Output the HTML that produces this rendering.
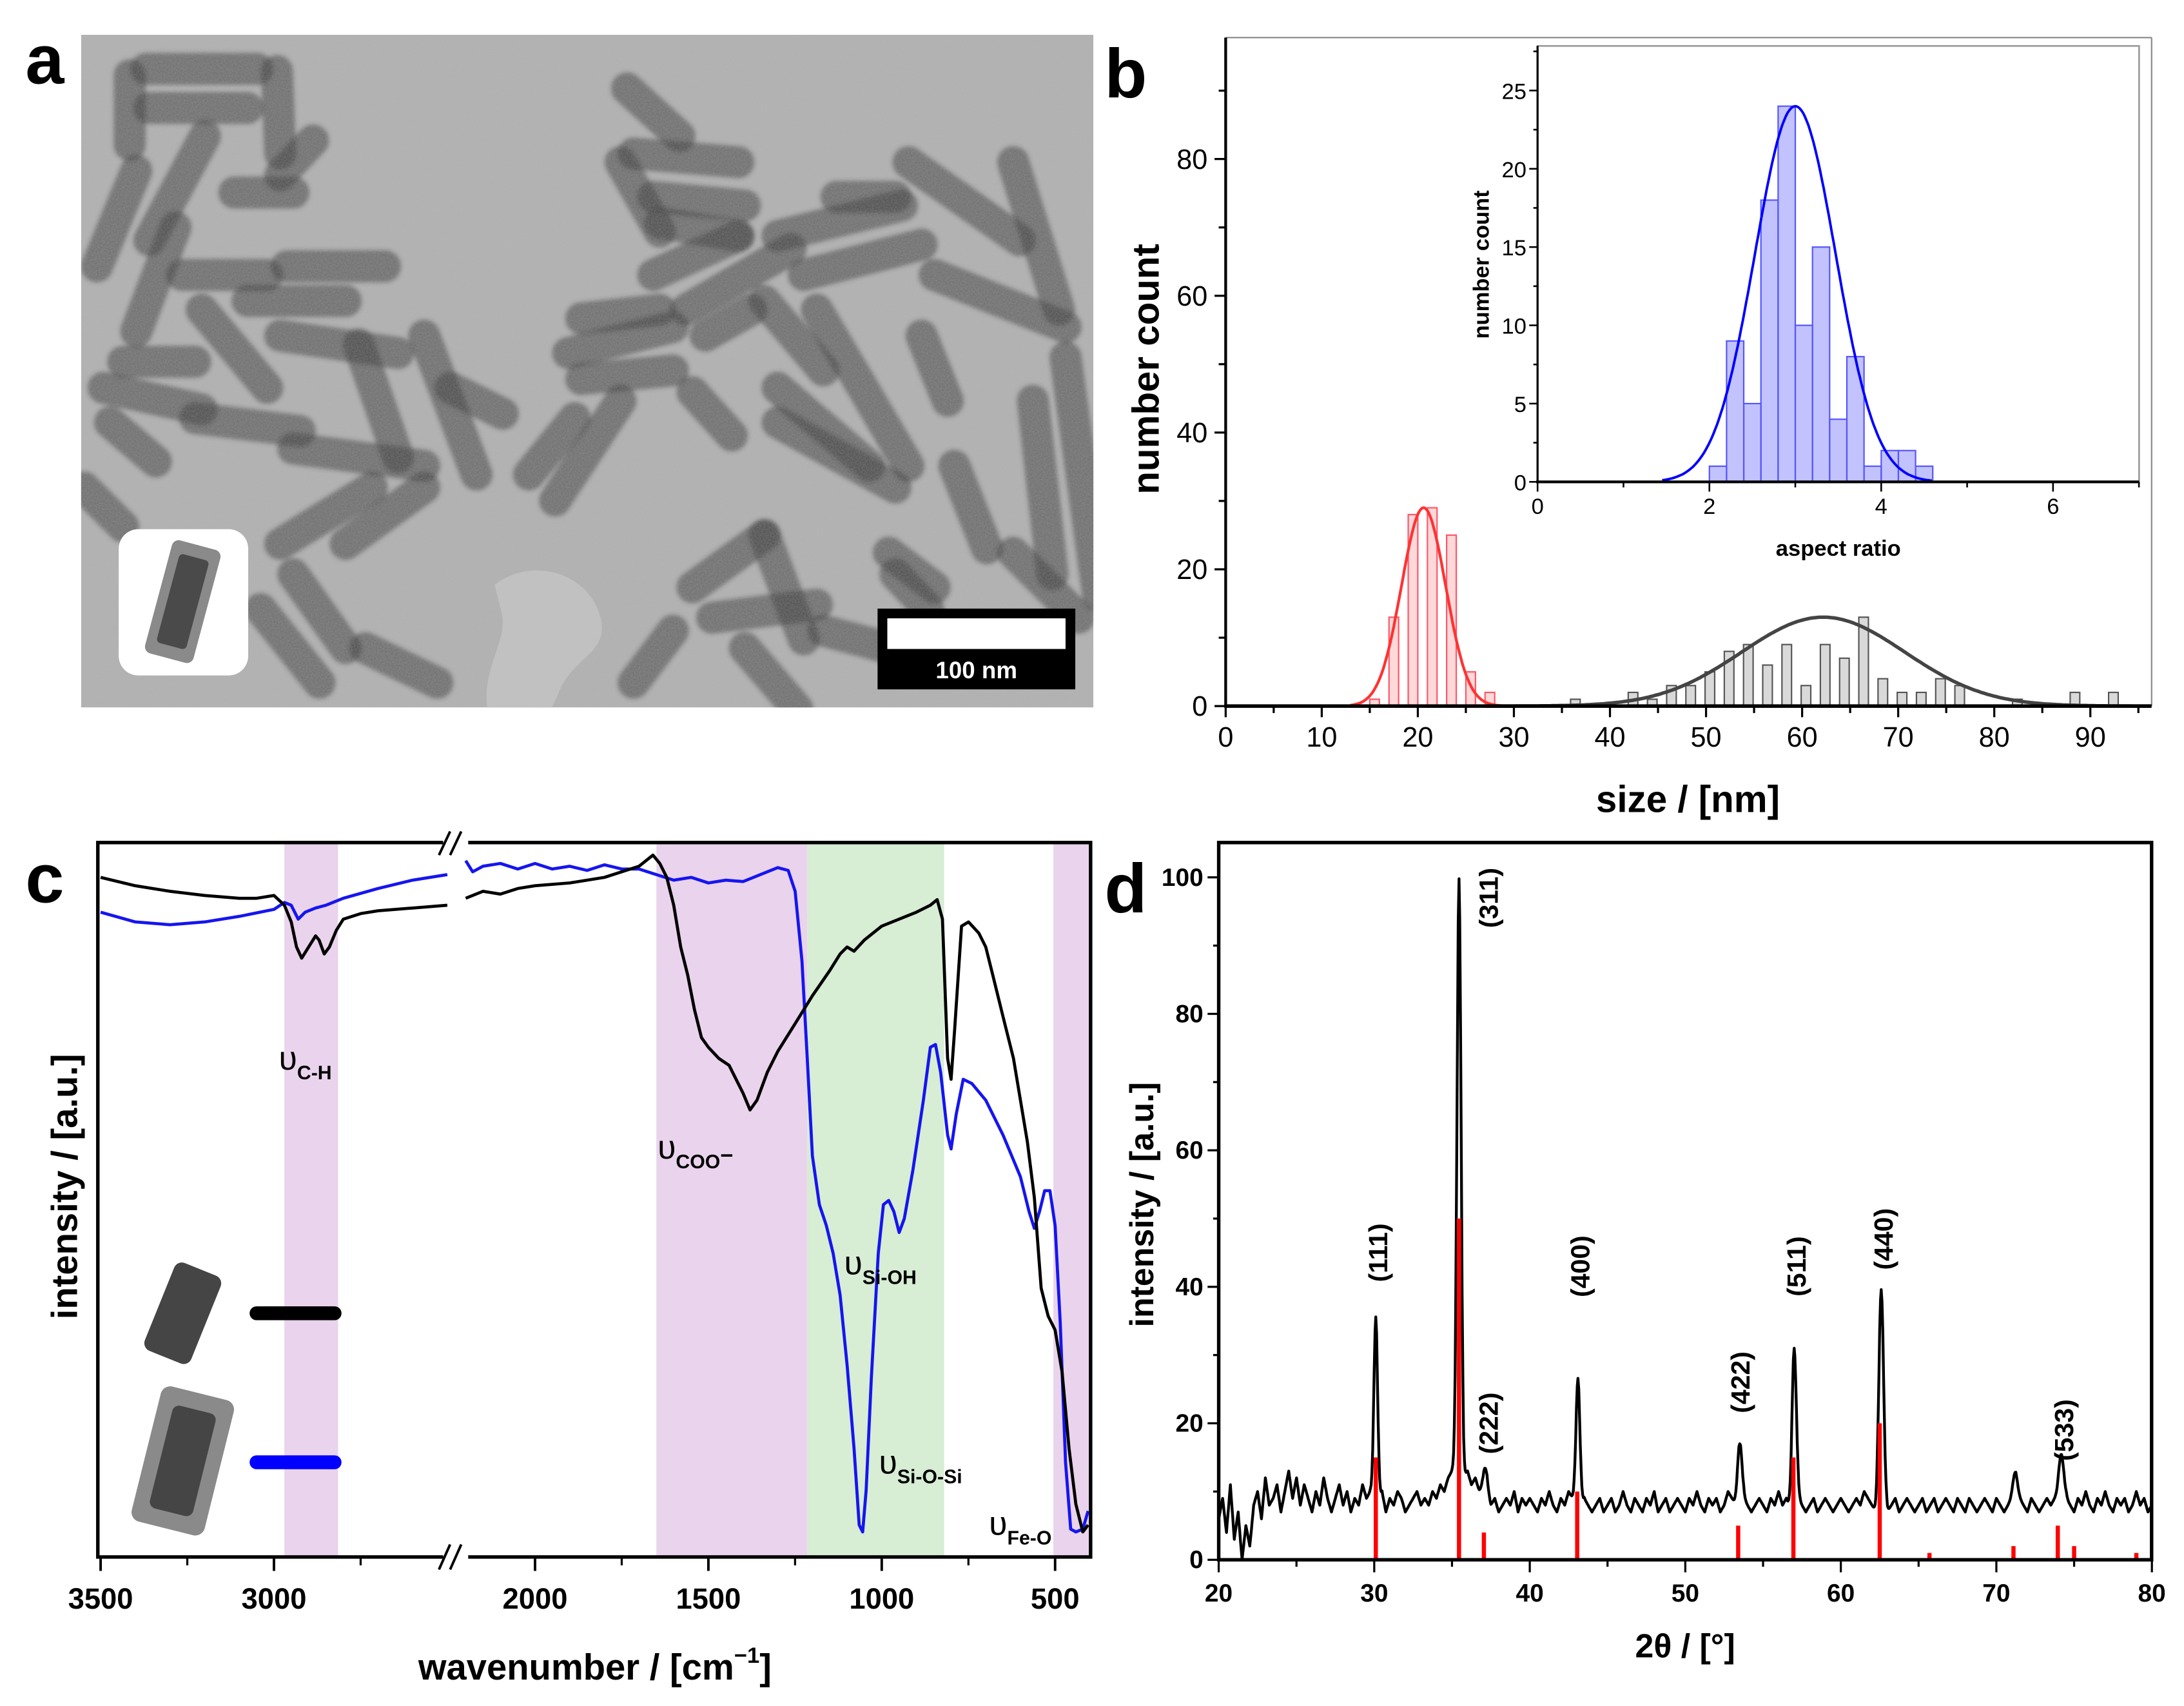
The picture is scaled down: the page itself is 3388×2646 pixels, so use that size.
<!DOCTYPE html>
<html><head><meta charset="utf-8"><style>
html,body{margin:0;padding:0;background:#fff}
svg{display:block}
text{font-family:"Liberation Sans",Arial,sans-serif}
</style></head><body>
<svg id="fig" xmlns="http://www.w3.org/2000/svg" width="3388" height="2646" viewBox="0 0 1568 1225">
<defs>
<filter id="grain" x="0" y="0" width="100%" height="100%"><feTurbulence type="fractalNoise" baseFrequency="0.9" numOctaves="2" seed="3" result="n"/><feColorMatrix type="matrix" values="0 0 0 0 0.5  0 0 0 0 0.5  0 0 0 0 0.5  0 0 0 0.35 0"/></filter>
<filter id="soft"><feGaussianBlur stdDeviation="1.6"/></filter>
<clipPath id="clipA"><rect x="58" y="25" width="727" height="483"/></clipPath>
<clipPath id="clipC"><rect x="70" y="605" width="713" height="513"/></clipPath>
<clipPath id="clipD"><rect x="875" y="605" width="670" height="515"/></clipPath>
</defs>
<text x="18" y="60" font-size="50" font-weight="bold">a</text>
<text x="793" y="70" font-size="50" font-weight="bold">b</text>
<text x="18" y="648" font-size="50" font-weight="bold">c</text>
<text x="793" y="655" font-size="50" font-weight="bold">d</text>

<g id="panelA" clip-path="url(#clipA)">
<rect x="58" y="25" width="727" height="483" fill="#b0b0b0"/>
<path d="M355,420 C380,400 420,410 430,440 C440,470 410,470 400,500 L395,510 L350,510 C345,480 365,460 360,440 Z" fill="#c2c2c2"/>
<g id="rods" filter="url(#soft)"></g>
<rect x="58" y="25" width="727" height="483" filter="url(#grain)"/>
</g>
<g>
<rect x="85" y="380" width="93" height="105" rx="14" fill="#fff"/>
<g transform="translate(131,432) rotate(15)"><rect x="-18" y="-42" width="36" height="84" rx="5" fill="#8a8a8a"/><rect x="-11" y="-33" width="22" height="66" rx="3" fill="#4a4a4a"/></g>
</g>
<g>
<rect x="630" y="437" width="142" height="58" fill="#000"/>
<rect x="637" y="444" width="128" height="22" fill="#fff"/>
<text x="701" y="487" font-size="17" font-weight="bold" fill="#fff" text-anchor="middle">100 nm</text>
</g>

<g id="panelB"></g>
<g id="panelC"></g>
<g id="panelD"></g>
</svg>
<script>
var NS="http://www.w3.org/2000/svg";
function mk(parent,tag,attrs,txt){var e=document.createElementNS(NS,tag);for(var k in attrs)e.setAttribute(k,attrs[k]);if(txt!==undefined)e.textContent=txt;parent.appendChild(e);return e;}

var rodSegs=[[95,85,265,85],[100,175,250,175],[70,100,70,260],[295,90,300,280],[350,250,300,330],[185,240,100,480],[80,320,20,540],[140,450,80,690],[230,370,320,370],[310,540,460,540],[150,560,280,560],[250,620,400,620],[180,640,280,820],[60,760,170,760],[30,820,180,870],[40,900,110,990],[170,890,330,920],[320,960,520,1000],[300,700,480,740],[420,720,480,980],[520,700,600,1020],[560,820,640,880],[300,1180,440,1050],[400,1180,520,1050],[680,1020,750,890],[720,1080,820,850],[320,1250,400,1420],[270,1330,360,1500],[430,1420,540,1500],[0,1050,60,1140],[830,130,910,240],[840,280,1000,300],[820,300,880,460],[870,380,1010,400],[880,440,1000,470],[870,560,1000,470],[920,640,1080,500],[740,740,900,680],[760,660,880,640],[760,800,900,780],[950,700,1020,640],[930,830,990,930],[1040,620,1130,780],[1060,470,1250,400],[1100,560,1280,490],[1150,380,1240,380],[1260,300,1430,480],[1300,560,1500,680],[1420,300,1490,640],[1120,640,1260,1000],[1060,900,1240,1050],[1060,820,1200,1000],[1280,700,1320,850],[1330,1000,1380,1190],[1450,850,1480,1250],[1500,750,1550,1300],[930,1280,1040,1160],[1040,1160,1100,1400],[960,1350,1120,1320],[1230,1200,1300,1280],[1130,1380,1230,1420],[840,1500,900,1380],[1010,1420,1090,1560],[1420,1200,1520,1350],[1240,1250,1290,1330]];
var rodsG=document.getElementById('rods');
rodSegs.forEach(function(s){
  var l=mk(rodsG,'line',{x1:60+s[0]*0.47,y1:23+s[1]*0.3115,x2:60+s[2]*0.47,y2:23+s[3]*0.3115,stroke:'rgba(55,55,55,0.55)','stroke-width':23,'stroke-linecap':'round'});
  
  
});

var redCenters=[15.5,17.5,19.5,21.5,23.5,25.5,27.5];
var redCounts=[1,13,28,29,25,5,2];
var grayCenters=[36.4,42.4,44.4,46.4,48.4,50.4,52.4,54.4,56.4,58.4,60.4,62.4,64.4,66.4,68.4,70.4,72.4,74.4,76.4,82.4,88.4,92.4];
var grayCounts=[1,2,1,3,3,5,8,9,6,9,3,9,7,13,4,2,2,4,3,1,2,2];
var redFit=[29,20.6,2.3];
var grayFit=[13,62.2,8.5];
var arCenters=[2.1,2.3,2.5,2.7,2.9,3.1,3.3,3.5,3.7,3.9,4.1,4.3,4.5];
var arCounts=[1,9,5,18,24,10,15,4,8,1,2,2,1];
var arFit=[24,3.0,0.47];
var bXTicks=[0,10,20,30,40,50,60,70,80,90];
var bYTicks=[0,20,40,60,80];
var insXTicks=[0,2,4,6];
var insYTicks=[0,5,10,15,20,25];

(function(){
var g=document.getElementById('panelB');
function xb(v){return 880+v*6.9;} function yb(c){return 507-c*4.91;}
function xi(v){return 1104+v*61.7;} function yi(c){return 346-c*11.24;}
function gauss(p,x){return p[0]*Math.exp(-0.5*Math.pow((x-p[1])/p[2],2));}
mk(g,'line',{x1:880,y1:27,x2:1545,y2:27,stroke:'#888','stroke-width':1});
mk(g,'line',{x1:1545,y1:27,x2:1545,y2:507,stroke:'#888','stroke-width':1});
redCenters.forEach(function(c,i){var r=mk(g,'rect',{x:xb(c-0.5),y:yb(redCounts[i]),width:6.9,height:redCounts[i]*4.91,fill:'rgba(255,80,80,0.22)',stroke:'#f56','stroke-width':1});
});
grayCenters.forEach(function(c,i){var r=mk(g,'rect',{x:xb(c-0.5),y:yb(grayCounts[i]),width:6.9,height:grayCounts[i]*4.91,fill:'#d9d9d9',stroke:'#555','stroke-width':1});
});
var d='';for(var x=13;x<=30;x+=0.1){d+=(d?'L':'M')+xb(x).toFixed(1)+','+yb(gauss(redFit,x)).toFixed(1);}
var p=mk(g,'path',{d:d,fill:'none',stroke:'#f33','stroke-width':2});
d='';for(var x=27;x<=96.4;x+=0.2){d+=(d?'L':'M')+xb(x).toFixed(1)+','+yb(gauss(grayFit,x)).toFixed(1);}
p=mk(g,'path',{d:d,fill:'none',stroke:'#444','stroke-width':2.5});
mk(g,'line',{x1:880,y1:27,x2:880,y2:508,stroke:'#000','stroke-width':2});
mk(g,'line',{x1:879,y1:507,x2:1545,y2:507,stroke:'#000','stroke-width':2.5});
for(var v=0;v<=95;v+=5){mk(g,'line',{x1:xb(v),y1:507,x2:xb(v),y2:v%10==0?515:512,stroke:'#000','stroke-width':1.5});}
bXTicks.forEach(function(v){var t=mk(g,'text',{x:xb(v),y:536,'font-size':20,'text-anchor':'middle'},String(v));});
for(var c=0;c<=90;c+=10){mk(g,'line',{x1:880,y1:yb(c),x2:c%20==0?872:875,y2:yb(c),stroke:'#000','stroke-width':1.5});}
bYTicks.forEach(function(v){var t=mk(g,'text',{x:867,y:yb(v)+7,'font-size':20,'text-anchor':'end'},String(v));});
var t=mk(g,'text',{x:1212,y:583,'font-size':27,'font-weight':'bold','text-anchor':'middle'},'size / [nm]');
t=mk(g,'text',{x:0,y:0,'font-size':27,'font-weight':'bold','text-anchor':'middle',transform:'translate(832,265) rotate(-90)'},'number count');
var ig=mk(g,'g',{});
mk(ig,'rect',{x:1104,y:33,width:432,height:313,fill:'#fff',stroke:'#999','stroke-width':1.2});
arCenters.forEach(function(c,i){var r=mk(ig,'rect',{x:xi(c-0.1),y:yi(arCounts[i]),width:12.34,height:arCounts[i]*11.24,fill:'rgba(110,110,255,0.42)',stroke:'#55f','stroke-width':1});
});
d='';for(var x=1.45;x<=4.6;x+=0.02){d+=(d?'L':'M')+xi(x).toFixed(1)+','+yi(gauss(arFit,x)).toFixed(1);}
p=mk(ig,'path',{d:d,fill:'none',stroke:'#00f','stroke-width':1.8});
mk(ig,'line',{x1:1104,y1:33,x2:1104,y2:347,stroke:'#000','stroke-width':1.5});
mk(ig,'line',{x1:1103,y1:346,x2:1536,y2:346,stroke:'#000','stroke-width':2});
for(var v=0;v<=7;v++){mk(ig,'line',{x1:xi(v),y1:346,x2:xi(v),y2:v%2==0?353:350,stroke:'#000','stroke-width':1.2});}
insXTicks.forEach(function(v){var t=mk(ig,'text',{x:xi(v),y:369,'font-size':16,'text-anchor':'middle'},String(v));});
for(var c=0;c<=27.5;c+=2.5){mk(ig,'line',{x1:1104,y1:yi(c),x2:c%5==0?1098:1101,y2:yi(c),stroke:'#000','stroke-width':1.2});}
insYTicks.forEach(function(v){var t=mk(ig,'text',{x:1096,y:yi(v)+6,'font-size':16,'text-anchor':'end'},String(v));});
t=mk(ig,'text',{x:1320,y:399,'font-size':16,'font-weight':'bold','text-anchor':'middle'},'aspect ratio');
t=mk(ig,'text',{x:0,y:0,'font-size':16,'font-weight':'bold','text-anchor':'middle',transform:'translate(1069,190) rotate(-90)'},'number count');
})();

var blackLeftWn=[3500,3400,3300,3200,3100,3050,3000,2970,2950,2935,2920,2900,2880,2870,2855,2840,2820,2800,2750,2700,2600,2500];
var blackLeftI=[488,482,478,475,473,473,475,468,456,438,430,438,446,443,433,438,450,458,462,464,466,468];
var blackRightWn=[2200,2150,2100,2050,2000,1900,1800,1750,1700,1660,1640,1620,1600,1580,1560,1540,1520,1500,1470,1440,1420,1400,1380,1360,1330,1300,1250,1200,1150,1120,1100,1080,1050,1000,950,900,860,840,825,810,800,790,770,750,720,700,680,650,620,600,580,560,540,520,500,480,460,440,420,405];
var blackRightI=[473,478,476,480,482,484,488,492,496,504,498,488,468,438,418,393,373,366,358,353,343,333,321,328,348,363,383,403,421,433,438,435,443,453,458,463,468,472,458,358,343,378,453,456,448,438,418,388,358,328,298,258,193,173,163,133,78,38,18,23];
var blueLeftWn=[3500,3400,3300,3200,3100,3000,2970,2950,2930,2910,2880,2850,2800,2700,2600,2500];
var blueLeftI=[463,456,454,456,460,465,470,468,458,463,466,468,473,480,486,490];
var blueRightWn=[2200,2180,2150,2100,2050,2000,1950,1900,1850,1800,1750,1700,1650,1600,1550,1500,1450,1400,1350,1300,1270,1250,1230,1215,1200,1180,1160,1140,1120,1100,1080,1065,1055,1045,1030,1010,995,980,965,950,935,910,880,860,845,830,810,800,785,765,740,700,650,600,575,560,545,530,515,500,485,470,455,440,420,405];
var blueRightI=[500,492,496,498,494,498,494,496,493,497,494,494,490,486,488,484,486,485,490,495,493,478,428,358,288,253,238,218,188,138,78,23,18,48,128,218,253,256,248,233,243,278,328,366,368,348,303,293,318,343,340,328,303,273,248,236,248,263,263,238,168,68,20,18,20,33];
var cXTicks=[3500,3000,2000,1500,1000,500];
var cMinorTicks=[3250,2750,1750,1250,750];
var bandsFrom=[2970,1650,1215,505];
var bandsTo=[2815,1215,820,394];
var bandColors=['#ead3ec','#ead3ec','#d7edd4','#ead3ec'];

(function(){
var g=document.getElementById('panelC');
function xc(w){return w>=2300?72+(3500-w)*0.249:384+(2000-w)*0.249;}
function yc(v){return 1118-v;}
bandsFrom.forEach(function(f,i){var r=mk(g,'rect',{x:xc(f),y:605,width:xc(bandsTo[i])-xc(f),height:513,fill:bandColors[i]});});
var cl=mk(g,'g',{'clip-path':'url(#clipC)'});
function line(wn,iv,col,name){var d='';wn.forEach(function(w,i){d+=(i?'L':'M')+xc(w).toFixed(1)+','+yc(iv[i]).toFixed(1);});var p=mk(cl,'path',{d:d,fill:'none',stroke:col,'stroke-width':2.2,'stroke-linejoin':'round'});}
line(blueLeftWn,blueLeftI,'#1515f0','blue-spectrum-left');
line(blueRightWn,blueRightI,'#1515f0','blue-spectrum-right');
line(blackLeftWn,blackLeftI,'#000','black-spectrum-left');
line(blackRightWn,blackRightI,'#000','black-spectrum-right');
mk(g,'rect',{x:70,y:605,width:713,height:513,fill:'none',stroke:'#000','stroke-width':2.5});
mk(g,'rect',{x:318,y:598,width:18,height:14,fill:'#fff'});
mk(g,'rect',{x:318,y:1112,width:18,height:14,fill:'#fff'});
[[318,336],[326,344]].forEach(function(b){mk(g,'line',{x1:b[0]-3,y1:614,x2:b[0]+5,y2:597,stroke:'#000','stroke-width':1.8});mk(g,'line',{x1:b[0]-3,y1:1127,x2:b[0]+5,y2:1109,stroke:'#000','stroke-width':1.8});});
cXTicks.forEach(function(w){mk(g,'line',{x1:xc(w),y1:1118,x2:xc(w),y2:1128,stroke:'#000','stroke-width':1.8});
var t=mk(g,'text',{x:xc(w),y:1155,'font-size':21,'font-weight':'bold','text-anchor':'middle'},String(w));});
cMinorTicks.forEach(function(w){mk(g,'line',{x1:xc(w),y1:1118,x2:xc(w),y2:1124,stroke:'#000','stroke-width':1.5});});
var t=mk(g,'text',{x:427,y:1206,'font-size':26,'font-weight':'bold','text-anchor':'middle'});t.innerHTML='wavenumber / [cm<tspan font-size="16" dy="-12">−1</tspan><tspan dy="12">]</tspan>';

t=mk(g,'text',{x:0,y:0,'font-size':26,'font-weight':'bold','text-anchor':'middle',transform:'translate(55,852) rotate(-90)'},'intensity / [a.u.]');
function lab(x,y,sub,name){var t=mk(g,'text',{x:x,y:y,'font-size':24});t.innerHTML='υ<tspan font-size="14" font-weight="bold" dy="7">'+sub+'</tspan>';}
lab(200,768,'C-H','label-c-h');
lab(472,832,'COO<tspan font-size="16" dy="-4">−</tspan>','label-coo');
lab(606,915,'Si-OH','label-si-oh');
lab(631,1058,'Si-O-Si','label-si-o-si');
lab(710,1102,'Fe-O','label-fe-o');
var lg=mk(g,'g',{});
var a=mk(lg,'g',{transform:'translate(131,943) rotate(22)'});mk(a,'rect',{x:-18,y:-34,width:36,height:68,rx:6,fill:'#454545'});
var l1=mk(lg,'line',{x1:184,y1:943,x2:240,y2:943,stroke:'#000','stroke-width':10,'stroke-linecap':'round'});
var b=mk(lg,'g',{transform:'translate(131,1049) rotate(14)'});mk(b,'rect',{x:-27,y:-50,width:54,height:100,rx:7,fill:'#8a8a8a'});mk(b,'rect',{x:-16,y:-38,width:32,height:76,rx:5,fill:'#454545'});
var l2=mk(lg,'line',{x1:184,y1:1050,x2:240,y2:1050,stroke:'#0000ff','stroke-width':10,'stroke-linecap':'round'});
})();

var xrdStart=20, xrdStep=0.25;
var xrdBaseline=[6,9,4,11,3,7,0,5,2,8,10,6,12,8,9,11,7,10,13,9,
12,8,11,9,7,10,8,12,9,7,9,11,8,10,7,9,8,11,9,10,
9,8,10,7,9,8,10,9,7,8,9,10,8,9,8,10,9,11,10,12,
13,14,15,12,13,11,12,10,9,10,8,9,7,8,9,8,10,7,9,8,
9,8,7,9,8,10,8,7,9,8,10,9,8,7,9,8,7,8,9,7,
8,9,7,8,10,8,7,9,8,7,9,8,10,7,8,9,7,8,9,8,
7,9,8,10,8,7,9,8,9,7,8,10,9,8,7,9,8,7,8,9,
8,7,9,8,10,8,9,7,8,9,8,7,8,9,7,8,9,8,7,8,
9,8,7,8,9,8,10,9,8,7,9,8,7,8,9,7,8,9,8,7,
8,9,7,8,9,7,8,9,8,7,9,8,7,9,8,7,8,9,8,7,
9,8,7,8,9,10,9,8,7,9,8,7,8,9,8,9,10,8,9,8,
7,9,8,10,8,7,9,8,10,8,7,9,8,9,7,8,10,8,9,7,8];
var peakPos=[30.1,35.45,37.1,43.1,53.5,57.0,62.6,71.2,74.2];
var peakHeight=[27,85,4,19,10,23,31,3,7];
var peakWidth=[0.12,0.13,0.15,0.13,0.14,0.14,0.15,0.15,0.15];
var refPos=[30.1,35.45,37.05,43.05,53.4,56.95,62.5,65.7,71.1,73.95,75.0,79.0];
var refInt=[15,50,4,10,5,15,20,1,2,5,2,1];
var hklLabels=['(111)','(311)','(222)','(400)','(422)','(511)','(440)','(533)'];
var hklPos=[30.3,37.4,37.4,43.3,53.6,57.2,62.8,74.4];
var hklVal=[45,97,20,43,26,43,47,19];
var dXTicks=[20,30,40,50,60,70,80];
var dYTicks=[0,20,40,60,80,100];

(function(){
var g=document.getElementById('panelD');
function xd(t){return 875+(t-20)*11.17;} function yd(v){return 1120-v*4.9;}
var cl=mk(g,'g',{'clip-path':'url(#clipD)'});
var d='';
for(var k=0;k<=1200;k++){var t=20+k*0.05;var fi=(t-xrdStart)/xrdStep;var i0=Math.min(Math.floor(fi),xrdBaseline.length-2);var f=fi-i0;
var v=xrdBaseline[i0]*(1-f)+xrdBaseline[i0+1]*f;
for(var j=0;j<peakPos.length;j++){v+=peakHeight[j]*Math.exp(-0.5*Math.pow((t-peakPos[j])/peakWidth[j],2));}
d+=(k?'L':'M')+xd(t).toFixed(1)+','+yd(v).toFixed(1);}
var p=mk(cl,'path',{d:d,fill:'none',stroke:'#000','stroke-width':2,'stroke-linejoin':'round'});
refPos.forEach(function(r,i){var l=mk(cl,'line',{x1:xd(r),y1:yd(0),x2:xd(r),y2:yd(refInt[i]),stroke:'#f00','stroke-width':3});});
mk(g,'rect',{x:875,y:605,width:670,height:515,fill:'none',stroke:'#000','stroke-width':2.5});
for(var t=20;t<=80;t+=5){mk(g,'line',{x1:xd(t),y1:1120,x2:xd(t),y2:t%10==0?1129:1125,stroke:'#000','stroke-width':1.5});}
dXTicks.forEach(function(t){var e=mk(g,'text',{x:xd(t),y:1150,'font-size':18,'font-weight':'bold','text-anchor':'middle'},String(t));});
for(var v=0;v<=100;v+=10){mk(g,'line',{x1:875,y1:yd(v),x2:v%20==0?867:871,y2:yd(v),stroke:'#000','stroke-width':1.5});}
dYTicks.forEach(function(v){var e=mk(g,'text',{x:864,y:yd(v)+6,'font-size':18,'font-weight':'bold','text-anchor':'end'},String(v));});
hklLabels.forEach(function(h,i){var e=mk(g,'text',{x:0,y:0,'font-size':19,'font-weight':'bold','text-anchor':'middle',transform:'translate('+(xd(hklPos[i])+6)+','+yd(hklVal[i])+') rotate(-90)'},h);});
var e=mk(g,'text',{x:1210,y:1190,'font-size':24,'font-weight':'bold','text-anchor':'middle'},'2θ / [°]');
e=mk(g,'text',{x:0,y:0,'font-size':24,'font-weight':'bold','text-anchor':'middle',transform:'translate(828,865) rotate(-90)'},'intensity / [a.u.]');
})();
</script>
</body></html>
